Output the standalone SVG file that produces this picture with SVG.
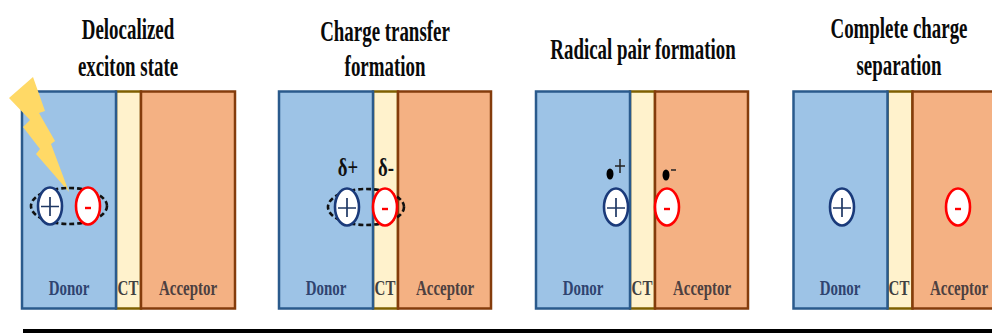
<svg xmlns="http://www.w3.org/2000/svg" width="992" height="333" viewBox="0 0 992 333">
<style>
text{font-family:"Liberation Serif","Times New Roman",serif;font-weight:bold;text-anchor:middle}
.t{font-size:30px;fill:#0a0a0a}
.l{font-size:22px}
.s{font-size:26px;fill:#111}
.d{fill:#9dc3e6;stroke:#2a5a8c;stroke-width:2.5}
.c{fill:#fff2cc;stroke:#7f6000;stroke-width:2.5}
.a{fill:#f4b183;stroke:#843c0c;stroke-width:2.5}
.p{fill:#fff;stroke:#1a3a7a;stroke-width:2.6}
.m{fill:#fff;stroke:#ff0000;stroke-width:2.6}
.pl{stroke:#1f3864;stroke-width:1.700;fill:none}
.mi{stroke:#ff0000;stroke-width:2.400;fill:none}
.x{fill:none;stroke:#111;stroke-width:2.6;stroke-dasharray:5 3}
.dn{fill:#2f4470}.ct{fill:#404040}.ac{fill:#4d4040}
</style>
<g id="panel1">
<rect class="c" x="116" y="91.500" width="25" height="217"/><rect class="d" x="22" y="91.500" width="94" height="217"/><rect class="a" x="141" y="91.500" width="94" height="217"/>
<text class="t" transform="translate(128 39) scale(.63 1)">Delocalized</text>
<text class="t" transform="translate(128 76) scale(.63 1)">exciton state</text>
<text class="l dn" transform="translate(69 295) scale(.68 1)">Donor</text>
<text class="l ct" transform="translate(128 295) scale(.68 1)">CT</text>
<text class="l ac" transform="translate(188 295) scale(.68 1)">Acceptor</text>
<polygon points="33,77 45,111 39,113 55,141 51,144 69,192 36,154 40,149 23,127 30,120 9,98" fill="#ffd966"/>
<ellipse class="x" cx="69" cy="206" rx="38" ry="18"/>
<ellipse class="p" cx="50" cy="206" rx="12" ry="18.500"/><path class="pl" d="M50 197V216M41 206.500H59"/>
<ellipse class="m" cx="88" cy="206" rx="12" ry="18.500"/><path class="mi" d="M85 208H91"/>
</g>
<g id="panel2">
<rect class="c" x="373" y="91.500" width="25" height="217"/><rect class="d" x="279" y="91.500" width="94" height="217"/><rect class="a" x="398" y="91.500" width="93" height="217"/>
<text class="t" transform="translate(385 41) scale(.63 1)">Charge transfer</text>
<text class="t" transform="translate(385 76) scale(.63 1)">formation</text>
<text class="l dn" transform="translate(326 295) scale(.68 1)">Donor</text>
<text class="l ct" transform="translate(385 295) scale(.68 1)">CT</text>
<text class="l ac" transform="translate(445 295) scale(.68 1)">Acceptor</text>
<text class="s" transform="translate(348 176) scale(.72 1)">δ+</text>
<text class="s" transform="translate(386 176) scale(.72 1)">δ-</text>
<ellipse class="x" cx="366" cy="207" rx="38" ry="18"/>
<ellipse class="p" cx="347" cy="207" rx="12" ry="18.500"/><path class="pl" d="M347 198V217M338 208H356"/>
<ellipse class="m" cx="385" cy="207" rx="12" ry="18.500"/><path class="mi" d="M382 209H388"/>
</g>
<g id="panel3">
<rect class="c" x="630" y="91.500" width="25" height="217"/><rect class="d" x="536" y="91.500" width="94" height="217"/><rect class="a" x="655" y="91.500" width="93" height="217"/>
<text class="t" transform="translate(643 59) scale(.63 1)">Radical pair formation</text>
<text class="l dn" transform="translate(583 295) scale(.68 1)">Donor</text>
<text class="l ct" transform="translate(642 295) scale(.68 1)">CT</text>
<text class="l ac" transform="translate(702 295) scale(.68 1)">Acceptor</text>
<ellipse cx="610" cy="174" rx="3.500" ry="5.500" fill="#000"/><path d="M620 159V173M615 166H625" stroke="#222" stroke-width="1.500" fill="none"/>
<ellipse cx="666" cy="175" rx="3.500" ry="5.500" fill="#000"/><path d="M671 170H676" stroke="#222" stroke-width="1.500" fill="none"/>
<ellipse class="p" cx="616" cy="207" rx="12" ry="18.500"/><path class="pl" d="M616 198V217M607 208H625"/>
<ellipse class="m" cx="667" cy="207" rx="12" ry="18.500"/><path class="mi" d="M664 209H670"/>
</g>
<g id="panel4">
<rect class="c" x="887.500" y="91.500" width="25" height="217"/><rect class="d" x="793.500" y="91.500" width="94" height="217"/><rect class="a" x="912.500" y="91.500" width="93" height="217"/>
<text class="t" transform="translate(899 38) scale(.63 1)">Complete charge</text>
<text class="t" transform="translate(899 75) scale(.63 1)">separation</text>
<text class="l dn" transform="translate(840 295) scale(.68 1)">Donor</text>
<text class="l ct" transform="translate(899 295) scale(.68 1)">CT</text>
<text class="l ac" transform="translate(959 295) scale(.68 1)">Acceptor</text>
<ellipse class="p" cx="842" cy="207" rx="12" ry="18.500"/><path class="pl" d="M842 198V217M833 208H851"/>
<ellipse class="m" cx="958" cy="207" rx="12" ry="18.500"/><path class="mi" d="M955 209H961"/>
</g>
<rect id="baseline" x="23" y="329" width="969" height="4" fill="#000"/>
</svg>
